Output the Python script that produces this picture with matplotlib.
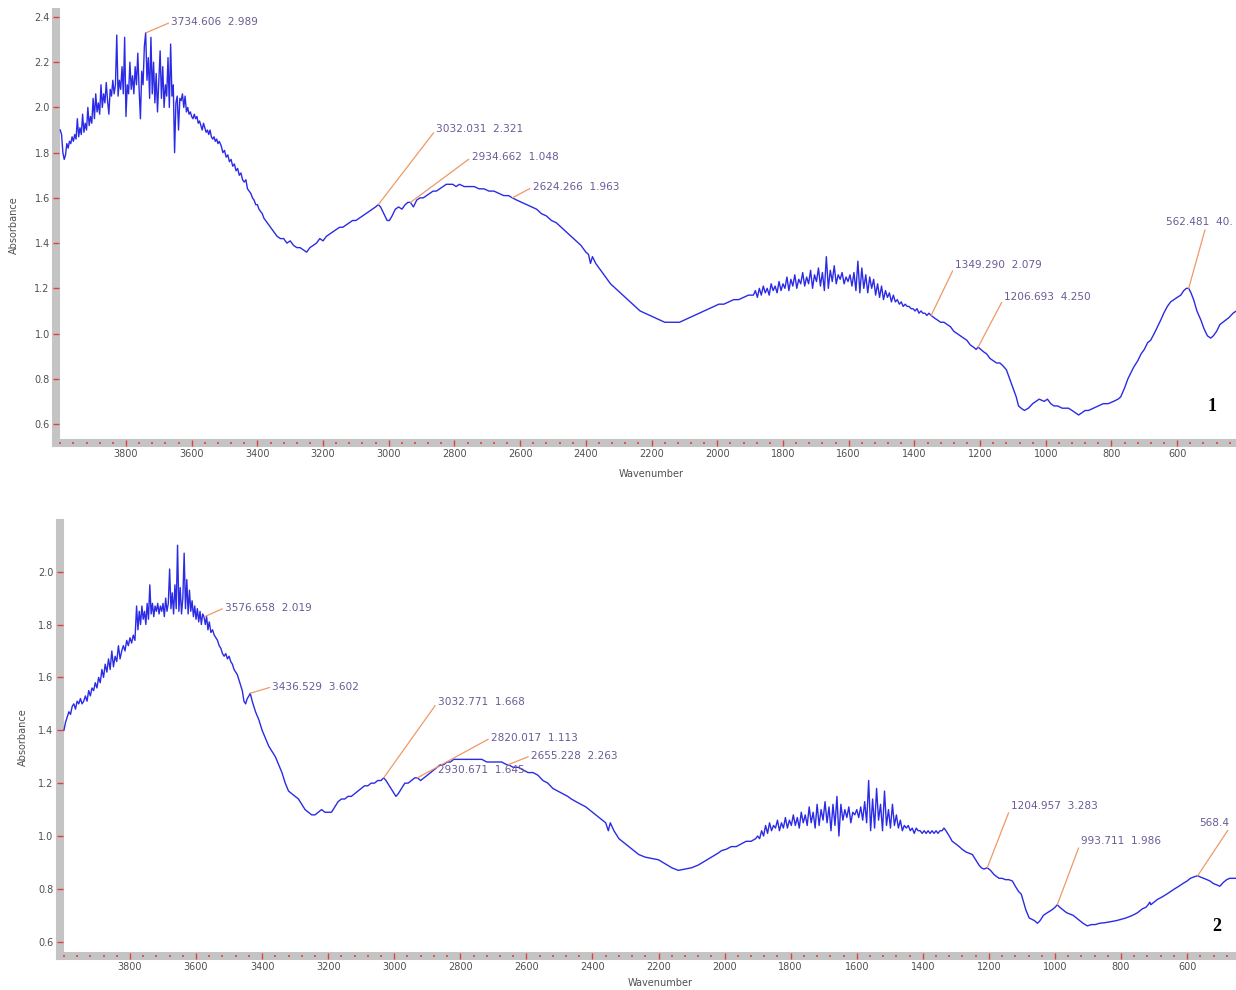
import numpy as np
import matplotlib
matplotlib.use("Agg")
import matplotlib.pyplot as plt
from matplotlib.ticker import MultipleLocator, FixedLocator, FormatStrFormatter

# ----------------------------- spectrum 1 (top) -----------------------------
wn_1 = [
    4000, 3996, 3992, 3988, 3984, 3980, 3976, 3972, 3968, 3964, 3960, 3956, 3952, 3948, 3944, 3940,
    3936, 3932, 3928, 3924, 3920, 3916, 3912, 3908, 3904, 3900, 3896, 3892, 3888, 3884, 3880, 3876,
    3872, 3868, 3864, 3860, 3856, 3852, 3848, 3844, 3840, 3836, 3832, 3828, 3824, 3820, 3816, 3812,
    3808, 3804, 3800, 3796, 3792, 3788, 3784, 3780, 3776, 3772, 3768, 3764, 3760, 3756, 3752, 3748,
    3744, 3740, 3736, 3732, 3728, 3724, 3720, 3716, 3712, 3708, 3704, 3700, 3696, 3692, 3688, 3684,
    3680, 3676, 3672, 3668, 3664, 3660, 3656, 3652, 3648, 3644, 3640, 3636, 3632, 3628, 3624, 3620,
    3616, 3612, 3608, 3604, 3600, 3596, 3592, 3588, 3584, 3580, 3576, 3572, 3568, 3564, 3560, 3556,
    3552, 3548, 3544, 3540, 3536, 3532, 3528, 3524, 3520, 3516, 3510, 3505, 3500, 3495, 3490, 3485,
    3480, 3475, 3470, 3465, 3460, 3455, 3450, 3445, 3440, 3435, 3430, 3425, 3420, 3415, 3410, 3405,
    3400, 3395, 3390, 3385, 3380, 3370, 3360, 3350, 3340, 3330, 3320, 3310, 3300, 3290, 3280, 3270,
    3260, 3250, 3240, 3230, 3220, 3210, 3200, 3190, 3180, 3170, 3160, 3150, 3140, 3130, 3120, 3110,
    3100, 3090, 3080, 3070, 3060, 3050, 3040, 3032, 3025, 3015, 3005, 2998, 2990, 2980, 2970, 2960,
    2950, 2942, 2934, 2925, 2915, 2905, 2895, 2885, 2875, 2865, 2855, 2845, 2835, 2825, 2815, 2805,
    2795, 2785, 2770, 2755, 2740, 2725, 2710, 2695, 2680, 2665, 2650, 2635, 2624, 2610, 2595, 2580,
    2565, 2550, 2535, 2520, 2505, 2490, 2475, 2460, 2445, 2430, 2415, 2400, 2392, 2386, 2380, 2370,
    2355, 2340, 2325, 2310, 2295, 2280, 2265, 2250, 2235, 2220, 2205, 2190, 2175, 2160, 2145, 2130,
    2115, 2100, 2085, 2070, 2055, 2040, 2025, 2010, 1995, 1980, 1965, 1950, 1935, 1920, 1905, 1890,
    1884, 1878, 1872, 1866, 1860, 1854, 1848, 1842, 1836, 1830, 1824, 1818, 1812, 1806, 1800, 1794,
    1788, 1782, 1776, 1770, 1764, 1758, 1752, 1746, 1740, 1734, 1728, 1722, 1716, 1710, 1704, 1698,
    1692, 1686, 1680, 1674, 1668, 1662, 1656, 1650, 1644, 1638, 1632, 1626, 1620, 1614, 1608, 1602,
    1596, 1590, 1584, 1578, 1572, 1566, 1560, 1554, 1548, 1542, 1536, 1530, 1524, 1518, 1512, 1506,
    1500, 1494, 1488, 1482, 1476, 1470, 1464, 1458, 1452, 1446, 1440, 1434, 1428, 1422, 1416, 1410,
    1404, 1398, 1392, 1386, 1380, 1374, 1368, 1362, 1356, 1349, 1340, 1330, 1320, 1310, 1300, 1290,
    1280, 1270, 1260, 1250, 1240, 1230, 1220, 1212, 1206, 1198, 1190, 1180, 1170, 1160, 1150, 1140,
    1132, 1120, 1110, 1100, 1090, 1083, 1075, 1065, 1053, 1040, 1030, 1020, 1005, 995, 985, 975,
    964, 950, 940, 931, 920, 910, 900, 890, 880, 870, 855, 840, 825, 810, 794, 780,
    772, 760, 750, 740, 733, 720, 710, 700, 690, 681, 670, 660, 650, 641, 630, 620,
    610, 600, 589, 580, 572, 565, 558, 550, 540, 528, 518, 508, 498, 490, 480, 470,
    461, 452, 443, 430, 420,
]
abs_1 = [
    1.90, 1.88, 1.80, 1.77, 1.79, 1.84, 1.82, 1.85, 1.84, 1.87, 1.85, 1.88, 1.86, 1.95, 1.87, 1.91,
    1.88, 1.97, 1.89, 1.93, 1.90, 2.00, 1.92, 1.96, 1.93, 2.04, 1.95, 2.06, 1.98, 2.02, 1.97, 2.10,
    2.00, 2.06, 2.02, 2.11, 2.03, 1.97, 2.08, 2.05, 2.12, 2.06, 2.10, 2.32, 2.05, 2.12, 2.08, 2.18,
    2.06, 2.31, 1.96, 2.10, 2.06, 2.20, 2.08, 2.14, 2.06, 2.18, 2.10, 2.24, 2.08, 1.95, 2.16, 2.10,
    2.27, 2.33, 2.12, 2.22, 2.04, 2.31, 2.06, 2.20, 2.02, 2.15, 1.98, 2.12, 2.25, 2.04, 2.18, 2.00,
    2.10, 2.05, 2.22, 2.00, 2.28, 2.05, 2.10, 1.80, 2.02, 2.05, 1.90, 2.04, 2.03, 2.06, 2.00, 2.05,
    1.98, 2.00, 1.97, 1.98, 1.96, 1.95, 1.97, 1.95, 1.96, 1.93, 1.94, 1.92, 1.90, 1.93, 1.91, 1.89,
    1.90, 1.88, 1.90, 1.87, 1.86, 1.87, 1.85, 1.86, 1.84, 1.85, 1.83, 1.80, 1.81, 1.78, 1.79, 1.76,
    1.77, 1.74, 1.75, 1.72, 1.73, 1.70, 1.71, 1.68, 1.67, 1.68, 1.64, 1.63, 1.62, 1.60, 1.59, 1.57,
    1.57, 1.55, 1.54, 1.53, 1.51, 1.49, 1.47, 1.45, 1.43, 1.42, 1.42, 1.40, 1.41, 1.39, 1.38, 1.38,
    1.37, 1.36, 1.38, 1.39, 1.40, 1.42, 1.41, 1.43, 1.44, 1.45, 1.46, 1.47, 1.47, 1.48, 1.49, 1.50,
    1.50, 1.51, 1.52, 1.53, 1.54, 1.55, 1.56, 1.57, 1.56, 1.53, 1.50, 1.50, 1.52, 1.55, 1.56, 1.55,
    1.57, 1.58, 1.58, 1.56, 1.59, 1.60, 1.60, 1.61, 1.62, 1.63, 1.63, 1.64, 1.65, 1.66, 1.66, 1.66,
    1.65, 1.66, 1.65, 1.65, 1.65, 1.64, 1.64, 1.63, 1.63, 1.62, 1.61, 1.61, 1.60, 1.59, 1.58, 1.57,
    1.56, 1.55, 1.53, 1.52, 1.50, 1.49, 1.47, 1.45, 1.43, 1.41, 1.39, 1.36, 1.35, 1.31, 1.34, 1.31,
    1.28, 1.25, 1.22, 1.20, 1.18, 1.16, 1.14, 1.12, 1.10, 1.09, 1.08, 1.07, 1.06, 1.05, 1.05, 1.05,
    1.05, 1.06, 1.07, 1.08, 1.09, 1.10, 1.11, 1.12, 1.13, 1.13, 1.14, 1.15, 1.15, 1.16, 1.17, 1.17,
    1.19, 1.16, 1.20, 1.17, 1.21, 1.18, 1.20, 1.17, 1.22, 1.19, 1.21, 1.18, 1.23, 1.19, 1.22, 1.20,
    1.25, 1.19, 1.24, 1.21, 1.26, 1.20, 1.24, 1.22, 1.27, 1.21, 1.25, 1.22, 1.28, 1.20, 1.26, 1.23,
    1.29, 1.21, 1.27, 1.19, 1.34, 1.20, 1.28, 1.23, 1.30, 1.22, 1.26, 1.24, 1.27, 1.22, 1.25, 1.23,
    1.26, 1.21, 1.27, 1.19, 1.32, 1.18, 1.29, 1.20, 1.26, 1.18, 1.25, 1.20, 1.24, 1.17, 1.22, 1.16,
    1.21, 1.15, 1.19, 1.16, 1.18, 1.14, 1.17, 1.14, 1.15, 1.13, 1.14, 1.12, 1.13, 1.12, 1.12, 1.11,
    1.11, 1.10, 1.11, 1.09, 1.10, 1.09, 1.09, 1.08, 1.09, 1.08, 1.07, 1.06, 1.05, 1.05, 1.04, 1.03,
    1.01, 1.00, 0.99, 0.98, 0.97, 0.95, 0.94, 0.93, 0.94, 0.93, 0.92, 0.91, 0.89, 0.88, 0.87, 0.87,
    0.86, 0.84, 0.80, 0.76, 0.72, 0.68, 0.67, 0.66, 0.67, 0.69, 0.70, 0.71, 0.70, 0.71, 0.69, 0.68,
    0.68, 0.67, 0.67, 0.67, 0.66, 0.65, 0.64, 0.65, 0.66, 0.66, 0.67, 0.68, 0.69, 0.69, 0.70, 0.71,
    0.72, 0.76, 0.80, 0.83, 0.85, 0.88, 0.91, 0.93, 0.96, 0.97, 1.00, 1.03, 1.06, 1.09, 1.12, 1.14,
    1.15, 1.16, 1.17, 1.19, 1.20, 1.20, 1.18, 1.15, 1.10, 1.06, 1.02, 0.99, 0.98, 0.99, 1.01, 1.04,
    1.05, 1.06, 1.07, 1.09, 1.10,
]

# ---------------------------- spectrum 2 (bottom) ----------------------------
wn_2 = [
    4000, 3995, 3990, 3985, 3980, 3975, 3970, 3965, 3960, 3955, 3950, 3945, 3940, 3935, 3930, 3925,
    3920, 3915, 3910, 3905, 3900, 3895, 3890, 3885, 3880, 3875, 3870, 3865, 3860, 3855, 3850, 3845,
    3840, 3835, 3830, 3825, 3820, 3815, 3810, 3805, 3800, 3795, 3790, 3785, 3780, 3776, 3772, 3768,
    3764, 3760, 3756, 3752, 3748, 3744, 3740, 3736, 3732, 3728, 3724, 3720, 3716, 3712, 3708, 3704,
    3700, 3696, 3692, 3688, 3684, 3680, 3676, 3672, 3668, 3664, 3660, 3656, 3652, 3648, 3644, 3640,
    3636, 3632, 3628, 3624, 3620, 3616, 3612, 3608, 3604, 3600, 3596, 3592, 3588, 3584, 3580, 3576,
    3572, 3568, 3564, 3560, 3555, 3550, 3545, 3540, 3535, 3530, 3525, 3520, 3515, 3510, 3505, 3500,
    3495, 3490, 3485, 3480, 3475, 3470, 3465, 3460, 3455, 3450, 3445, 3440, 3436, 3430, 3420, 3410,
    3400, 3390, 3380, 3370, 3360, 3350, 3340, 3330, 3320, 3310, 3300, 3290, 3280, 3270, 3260, 3250,
    3240, 3230, 3220, 3210, 3200, 3190, 3180, 3170, 3160, 3150, 3140, 3130, 3120, 3110, 3100, 3090,
    3080, 3070, 3060, 3050, 3040, 3032, 3025, 3015, 3005, 2995, 2988, 2978, 2968, 2958, 2948, 2938,
    2930, 2920, 2910, 2900, 2890, 2880, 2870, 2860, 2850, 2840, 2830, 2820, 2810, 2795, 2780, 2765,
    2750, 2735, 2720, 2705, 2690, 2675, 2660, 2655, 2640, 2625, 2610, 2595, 2580, 2565, 2550, 2535,
    2520, 2505, 2490, 2475, 2464, 2450, 2420, 2400, 2380, 2360, 2352, 2346, 2335, 2320, 2300, 2280,
    2260, 2240, 2220, 2200, 2180, 2160, 2140, 2120, 2100, 2080, 2060, 2040, 2020, 2009, 1995, 1980,
    1965, 1950, 1935, 1920, 1906, 1900, 1894, 1888, 1882, 1876, 1870, 1864, 1858, 1852, 1846, 1840,
    1834, 1828, 1822, 1816, 1810, 1804, 1798, 1792, 1786, 1780, 1774, 1768, 1762, 1756, 1750, 1744,
    1738, 1732, 1726, 1720, 1714, 1708, 1702, 1696, 1690, 1684, 1678, 1672, 1666, 1660, 1654, 1648,
    1642, 1636, 1630, 1624, 1618, 1612, 1606, 1600, 1594, 1588, 1582, 1576, 1570, 1564, 1558, 1552,
    1546, 1540, 1534, 1528, 1522, 1516, 1510, 1504, 1498, 1492, 1486, 1480, 1474, 1468, 1462, 1456,
    1450, 1444, 1438, 1432, 1426, 1420, 1414, 1408, 1402, 1396, 1390, 1384, 1378, 1372, 1366, 1360,
    1354, 1348, 1342, 1336, 1330, 1320, 1311, 1300, 1290, 1281, 1270, 1260, 1250, 1240, 1230, 1223,
    1215, 1205, 1195, 1185, 1175, 1169, 1160, 1150, 1140, 1129, 1120, 1110, 1102, 1095, 1088, 1078,
    1070, 1062, 1053, 1045, 1035, 1023, 1010, 1000, 993, 985, 975, 965, 955, 945, 935, 925,
    915, 902, 890, 878, 865, 850, 835, 814, 800, 785, 765, 750, 735, 725, 718, 713,
    710, 700, 690, 675, 662, 650, 638, 625, 613, 600, 590, 580, 568, 560, 550, 540,
    531, 520, 510, 501, 490, 480, 471, 460, 450,
]
abs_2 = [
    1.40, 1.43, 1.45, 1.47, 1.46, 1.49, 1.50, 1.48, 1.51, 1.50, 1.52, 1.50, 1.51, 1.53, 1.51, 1.55,
    1.53, 1.56, 1.55, 1.58, 1.56, 1.60, 1.58, 1.63, 1.60, 1.65, 1.62, 1.67, 1.63, 1.70, 1.64, 1.68,
    1.66, 1.72, 1.67, 1.70, 1.72, 1.70, 1.74, 1.72, 1.75, 1.73, 1.76, 1.74, 1.87, 1.78, 1.85, 1.80,
    1.87, 1.82, 1.85, 1.80, 1.88, 1.82, 1.95, 1.84, 1.88, 1.83, 1.87, 1.85, 1.88, 1.84, 1.87, 1.85,
    1.88, 1.83, 1.90, 1.85, 1.88, 2.01, 1.86, 1.92, 1.84, 1.95, 1.86, 2.10, 1.85, 1.94, 1.84, 1.90,
    2.07, 1.86, 1.97, 1.84, 1.93, 1.85, 1.89, 1.83, 1.87, 1.82, 1.86, 1.81, 1.85, 1.80, 1.84, 1.83,
    1.80, 1.83, 1.78, 1.81, 1.77, 1.78, 1.76, 1.75, 1.74, 1.72, 1.71, 1.69, 1.68, 1.69, 1.67, 1.68,
    1.66, 1.65, 1.63, 1.62, 1.61, 1.59, 1.57, 1.55, 1.51, 1.50, 1.52, 1.53, 1.54, 1.51, 1.47, 1.44,
    1.40, 1.37, 1.34, 1.32, 1.30, 1.27, 1.24, 1.20, 1.17, 1.16, 1.15, 1.14, 1.12, 1.10, 1.09, 1.08,
    1.08, 1.09, 1.10, 1.09, 1.09, 1.09, 1.11, 1.13, 1.14, 1.14, 1.15, 1.15, 1.16, 1.17, 1.18, 1.19,
    1.19, 1.20, 1.20, 1.21, 1.21, 1.22, 1.21, 1.19, 1.17, 1.15, 1.16, 1.18, 1.20, 1.20, 1.21, 1.22,
    1.22, 1.21, 1.22, 1.23, 1.24, 1.25, 1.26, 1.27, 1.27, 1.28, 1.28, 1.29, 1.29, 1.29, 1.29, 1.29,
    1.29, 1.29, 1.28, 1.28, 1.28, 1.28, 1.27, 1.27, 1.26, 1.26, 1.25, 1.24, 1.24, 1.23, 1.21, 1.20,
    1.18, 1.17, 1.16, 1.15, 1.14, 1.13, 1.11, 1.09, 1.07, 1.05, 1.02, 1.05, 1.02, 0.99, 0.97, 0.95,
    0.93, 0.92, 0.915, 0.91, 0.895, 0.88, 0.87, 0.875, 0.88, 0.89, 0.905, 0.92, 0.935, 0.945, 0.95, 0.96,
    0.96, 0.97, 0.98, 0.98, 0.99, 1.00, 0.99, 1.02, 1.00, 1.04, 1.01, 1.05, 1.02, 1.04, 1.03, 1.06,
    1.02, 1.05, 1.03, 1.07, 1.03, 1.06, 1.04, 1.08, 1.04, 1.07, 1.03, 1.09, 1.05, 1.08, 1.04, 1.11,
    1.05, 1.09, 1.03, 1.12, 1.04, 1.10, 1.06, 1.13, 1.05, 1.11, 1.02, 1.12, 1.04, 1.15, 1.00, 1.12,
    1.06, 1.10, 1.07, 1.11, 1.05, 1.09, 1.08, 1.10, 1.07, 1.11, 1.06, 1.13, 1.05, 1.21, 1.02, 1.14,
    1.03, 1.18, 1.06, 1.12, 1.02, 1.17, 1.04, 1.10, 1.03, 1.12, 1.04, 1.08, 1.03, 1.06, 1.02, 1.04,
    1.03, 1.04, 1.02, 1.03, 1.01, 1.03, 1.02, 1.02, 1.01, 1.02, 1.01, 1.02, 1.01, 1.02, 1.01, 1.02,
    1.01, 1.02, 1.02, 1.03, 1.02, 1.00, 0.98, 0.97, 0.96, 0.95, 0.94, 0.935, 0.93, 0.91, 0.89, 0.88,
    0.875, 0.88, 0.87, 0.855, 0.845, 0.84, 0.84, 0.835, 0.835, 0.83, 0.81, 0.79, 0.78, 0.75, 0.72, 0.69,
    0.685, 0.68, 0.67, 0.68, 0.70, 0.71, 0.72, 0.73, 0.74, 0.73, 0.72, 0.71, 0.705, 0.70, 0.69, 0.68,
    0.67, 0.66, 0.665, 0.665, 0.67, 0.672, 0.675, 0.68, 0.685, 0.69, 0.70, 0.71, 0.725, 0.73, 0.74, 0.75,
    0.74, 0.75, 0.76, 0.77, 0.78, 0.79, 0.80, 0.81, 0.82, 0.83, 0.84, 0.845, 0.85, 0.845, 0.84, 0.835,
    0.83, 0.82, 0.815, 0.81, 0.825, 0.835, 0.84, 0.84, 0.84,
]

x_ticks = list(range(3800, 399, -200))

# ------------------------------ peak labels ----------------------------------
# (label text, peak wavenumber, peak absorbance, label wavenumber, label absorbance, line anchor)
# the two right-most labels are shown only as far as the cropped picture shows them
peaks_1 = [
    ("3734.606  2.989", 3739, 2.33, 3662, 2.378, (0, 0.5)),
    ("3032.031  2.321", 3032, 1.57, 2855, 1.904, (0, 0.5)),
    ("2934.662  1.048", 2934, 1.58, 2748, 1.780, (0, 0.5)),
    ("2624.266  1.963", 2624, 1.60, 2562, 1.648, (0, 0.5)),
    ("1349.290  2.079", 1349, 1.08, 1275, 1.303, (0, 0.5)),
    ("1206.693  4.250", 1206, 0.94, 1126, 1.161, (0, 0.5)),
    ("562.481  40.", 565, 1.20, 635, 1.493, (0.6, 0)),
]
peaks_2 = [
    ("3576.658  2.019", 3574, 1.83, 3512, 1.864, (0, 0.5)),
    ("3436.529  3.602", 3436, 1.54, 3369, 1.565, (0, 0.5)),
    ("3032.771  1.668", 3032, 1.22, 2868, 1.508, (0, 0.5)),
    ("2820.017  1.113", 2930, 1.22, 2707, 1.372, (0, 0.5)),
    ("2930.671  1.645", None, None, 2868, 1.251, None),
    ("2655.228  2.263", 2655, 1.27, 2586, 1.304, (0, 0.5)),
    ("1204.957  3.283", 1205, 0.88, 1132, 1.115, (0, 0.5)),
    ("993.711  1.986", 993, 0.74, 920, 0.983, (0, 0.5)),
    ("568.4", 568, 0.85, 562, 1.051, (1.0, 0)),
]

LINE = "#2b2be6"
LEAD = "#ee9966"
LABEL = "#6b5b95"
SPINE = "#c4c4c4"
TICK = "#e04040"

fig = plt.figure(figsize=(12.36, 9.9), dpi=100)
ax1 = fig.add_axes([0.0453, 0.5525, 0.9547, 0.4354])
ax2 = fig.add_axes([0.0485, 0.0343, 0.9515, 0.4374])


def style_axes(ax, xlim, ylim, yticks):
    ax.set_xlim(*xlim)
    ax.set_ylim(*ylim)
    ax.xaxis.set_major_locator(FixedLocator(x_ticks))
    ax.xaxis.set_minor_locator(MultipleLocator(40))
    ax.set_yticks(yticks)
    ax.yaxis.set_major_formatter(FormatStrFormatter("%.1f"))
    for s in ["top", "right"]:
        ax.spines[s].set_visible(False)
    for s in ["left", "bottom"]:
        ax.spines[s].set_color(SPINE)
        ax.spines[s].set_linewidth(5.8)
        ax.spines[s].set_zorder(1)
    ax.set_axisbelow(False)
    ax.tick_params(axis="both", which="major", direction="inout", length=5,
                   width=1.0, color=TICK, labelsize=7, labelcolor="#505050", pad=2)
    ax.tick_params(axis="x", which="minor", direction="inout", length=2,
                   width=1.2, color=TICK)
    ax.set_ylabel("Absorbance", fontsize=7, color="#505050")
    ax.set_xlabel("Wavenumber", fontsize=7, color="#505050")


def add_peaks(ax, peaks):
    for text, px, py, tx, ty, rel in peaks:
        if px is None:
            ax.text(tx, ty, text, fontsize=7.6, color=LABEL, ha="left", va="center")
            continue
        ax.annotate(text, xy=(px, py), xytext=(tx, ty), textcoords="data",
                    fontsize=7.6, color=LABEL, ha="left", va="center",
                    arrowprops=dict(arrowstyle="-", color=LEAD, lw=0.9,
                                    shrinkA=0, shrinkB=0, relpos=rel))


style_axes(ax1, (4013, 421), (0.516, 2.422), np.arange(0.6, 2.41, 0.2))
ax1.plot(wn_1, abs_1, color=LINE, lw=1.0)
add_peaks(ax1, peaks_1)
ax1.yaxis.set_label_coords(-0.031, 0.506)
ax1.xaxis.set_label_coords(0.504, -0.060)
ax1.text(0.980, 0.084, "1", transform=ax1.transAxes, fontsize=13,
         fontweight="bold", family="Liberation Serif", ha="center", va="center")

style_axes(ax2, (4012, 452), (0.546, 2.184), np.arange(0.6, 2.01, 0.2))
ax2.plot(wn_2, abs_2, color=LINE, lw=1.0)
add_peaks(ax2, peaks_2)
ax2.yaxis.set_label_coords(-0.027, 0.506)
ax2.xaxis.set_label_coords(0.51, -0.050)
ax2.text(0.984, 0.069, "2", transform=ax2.transAxes, fontsize=13,
         fontweight="bold", family="Liberation Serif", ha="center", va="center")

fig.savefig("out.png", dpi=100)
